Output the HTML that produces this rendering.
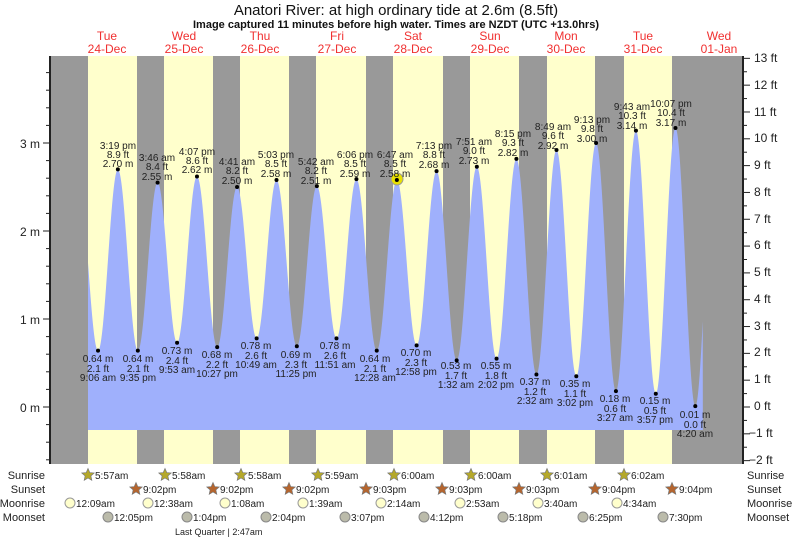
<!DOCTYPE html>
<html><head><meta charset="utf-8"><style>
body{margin:0;background:#fff;}
svg{display:block;font-family:"Liberation Sans",sans-serif;}
.t{font-size:10px;fill:#222;text-anchor:middle}
.d{font-size:12px;fill:#f03030;text-anchor:middle}
.r{font-size:12px;fill:#222}
</style></head><body>
<svg id="s" width="793" height="537" viewBox="0 0 793 537">
<rect width="793" height="537" fill="#fff"/>
<g id="bands"></g>
<path id="tide" fill="#9fb0fc" d=""/>
<g id="ticks" stroke="#222" stroke-width="1"></g>
<line x1="50" y1="56" x2="50" y2="464" stroke="#222" stroke-width="2"/>
<line x1="743" y1="56" x2="743" y2="464" stroke="#222" stroke-width="2"/>
<text x="396" y="15" font-size="15" text-anchor="middle" fill="#111">Anatori River: at high  ordinary tide at 2.6m (8.5ft)</text>
<text x="396" y="28" font-size="11" font-weight="bold" text-anchor="middle" fill="#111">Image captured 11 minutes before high water. Times are NZDT (UTC +13.0hrs)</text>
<g class="d">
<text x="107" y="40">Tue</text><text x="107" y="53">24‑Dec</text>
<text x="184" y="40">Wed</text><text x="184" y="53">25‑Dec</text>
<text x="260" y="40">Thu</text><text x="260" y="53">26‑Dec</text>
<text x="337" y="40">Fri</text><text x="337" y="53">27‑Dec</text>
<text x="413" y="40">Sat</text><text x="413" y="53">28‑Dec</text>
<text x="490" y="40">Sun</text><text x="490" y="53">29‑Dec</text>
<text x="566" y="40">Mon</text><text x="566" y="53">30‑Dec</text>
<text x="643" y="40">Tue</text><text x="643" y="53">31‑Dec</text>
<text x="719" y="40">Wed</text><text x="719" y="53">01‑Jan</text>
</g>
<g class="r" font-size="12">
<text x="40" y="148" text-anchor="end">3 m</text>
<text x="40" y="236" text-anchor="end">2 m</text>
<text x="40" y="324" text-anchor="end">1 m</text>
<text x="40" y="412" text-anchor="end">0 m</text>
<text x="754" y="62">13 ft</text><text x="754" y="89">12 ft</text><text x="754" y="116">11 ft</text>
<text x="754" y="142">10 ft</text><text x="754" y="169">9 ft</text><text x="754" y="196">8 ft</text>
<text x="754" y="223">7 ft</text><text x="754" y="249">6 ft</text><text x="754" y="276">5 ft</text>
<text x="754" y="303">4 ft</text><text x="754" y="330">3 ft</text><text x="754" y="356">2 ft</text>
<text x="754" y="383">1 ft</text><text x="754" y="410">0 ft</text><text x="749" y="437">−1 ft</text>
<text x="749" y="464">−2 ft</text>
</g>
<circle cx="397" cy="179" r="6" fill="#e8e000" stroke="#999" stroke-width="1"/>
<g id="dots" fill="#000"></g>
<g class="t">
<text x="118" y="149">3:19 pm</text><text x="118" y="158">8.9 ft</text><text x="118" y="167">2.70 m</text>
<text x="157" y="161">3:46 am</text><text x="157" y="170">8.4 ft</text><text x="157" y="180">2.55 m</text>
<text x="197" y="155">4:07 pm</text><text x="197" y="164">8.6 ft</text><text x="197" y="173">2.62 m</text>
<text x="237" y="165">4:41 am</text><text x="237" y="174">8.2 ft</text><text x="237" y="184">2.50 m</text>
<text x="276" y="158">5:03 pm</text><text x="276" y="167">8.5 ft</text><text x="276" y="177">2.58 m</text>
<text x="316" y="165">5:42 am</text><text x="316" y="174">8.2 ft</text><text x="316" y="184">2.51 m</text>
<text x="355" y="158">6:06 pm</text><text x="355" y="167">8.5 ft</text><text x="355" y="177">2.59 m</text>
<text x="395" y="158">6:47 am</text><text x="395" y="167">8.5 ft</text><text x="395" y="177">2.58 m</text>
<text x="434" y="149">7:13 pm</text><text x="434" y="158">8.8 ft</text><text x="434" y="168">2.68 m</text>
<text x="474" y="145">7:51 am</text><text x="474" y="154">9.0 ft</text><text x="474" y="164">2.73 m</text>
<text x="513" y="137">8:15 pm</text><text x="513" y="146">9.3 ft</text><text x="513" y="156">2.82 m</text>
<text x="553" y="130">8:49 am</text><text x="553" y="139">9.6 ft</text><text x="553" y="149">2.92 m</text>
<text x="592" y="123">9:13 pm</text><text x="592" y="132">9.8 ft</text><text x="592" y="142">3.00 m</text>
<text x="632" y="110">9:43 am</text><text x="632" y="119">10.3 ft</text><text x="632" y="129">3.14 m</text>
<text x="671" y="107">10:07 pm</text><text x="671" y="116">10.4 ft</text><text x="671" y="126">3.17 m</text>

<text x="98" y="362">0.64 m</text><text x="98" y="372">2.1 ft</text><text x="98" y="381">9:06 am</text>
<text x="138" y="362">0.64 m</text><text x="138" y="372">2.1 ft</text><text x="138" y="381">9:35 pm</text>
<text x="177" y="354">0.73 m</text><text x="177" y="364">2.4 ft</text><text x="177" y="373">9:53 am</text>
<text x="217" y="358">0.68 m</text><text x="217" y="368">2.2 ft</text><text x="217" y="377">10:27 pm</text>
<text x="256" y="349">0.78 m</text><text x="256" y="359">2.6 ft</text><text x="256" y="368">10:49 am</text>
<text x="296" y="358">0.69 m</text><text x="296" y="368">2.3 ft</text><text x="296" y="377">11:25 pm</text>
<text x="335" y="349">0.78 m</text><text x="335" y="359">2.6 ft</text><text x="335" y="368">11:51 am</text>
<text x="375" y="362">0.64 m</text><text x="375" y="372">2.1 ft</text><text x="375" y="381">12:28 am</text>
<text x="416" y="356">0.70 m</text><text x="416" y="366">2.3 ft</text><text x="416" y="375">12:58 pm</text>
<text x="456" y="369">0.53 m</text><text x="456" y="379">1.7 ft</text><text x="456" y="388">1:32 am</text>
<text x="496" y="369">0.55 m</text><text x="496" y="379">1.8 ft</text><text x="496" y="388">2:02 pm</text>
<text x="535" y="385">0.37 m</text><text x="535" y="395">1.2 ft</text><text x="535" y="404">2:32 am</text>
<text x="575" y="387">0.35 m</text><text x="575" y="397">1.1 ft</text><text x="575" y="406">3:02 pm</text>
<text x="615" y="402">0.18 m</text><text x="615" y="412">0.6 ft</text><text x="615" y="421">3:27 am</text>
<text x="655" y="404">0.15 m</text><text x="655" y="414">0.5 ft</text><text x="655" y="423">3:57 pm</text>
<text x="695" y="418">0.01 m</text><text x="695" y="428">0.0 ft</text><text x="695" y="437">4:20 am</text>
</g>
<g class="r" font-size="11">
<text x="45" y="479" text-anchor="end" font-size="11">Sunrise</text>
<text x="45" y="493" text-anchor="end" font-size="11">Sunset</text>
<text x="45" y="507" text-anchor="end" font-size="11">Moonrise</text>
<text x="45" y="521" text-anchor="end" font-size="11">Moonset</text>
<text x="747" y="479" font-size="11">Sunrise</text>
<text x="747" y="493" font-size="11">Sunset</text>
<text x="747" y="507" font-size="11">Moonrise</text>
<text x="747" y="521" font-size="11">Moonset</text>
<text x="175" y="535" font-size="9">Last Quarter | 2:47am</text>
</g>
<g id="ic"></g>
<g class="r" id="ict" style="font-size:10px">
<text x="95" y="479">5:57am</text><text x="172" y="479">5:58am</text><text x="248" y="479">5:58am</text><text x="325" y="479">5:59am</text>
<text x="401" y="479">6:00am</text><text x="478" y="479">6:00am</text><text x="554" y="479">6:01am</text><text x="631" y="479">6:02am</text>
<text x="143" y="493">9:02pm</text><text x="220" y="493">9:02pm</text><text x="296" y="493">9:02pm</text><text x="373" y="493">9:03pm</text>
<text x="449" y="493">9:03pm</text><text x="526" y="493">9:03pm</text><text x="602" y="493">9:04pm</text><text x="679" y="493">9:04pm</text>
<text x="76" y="507">12:09am</text><text x="154" y="507">12:38am</text><text x="231" y="507">1:08am</text><text x="309" y="507">1:39am</text>
<text x="387" y="507">2:14am</text><text x="466" y="507">2:53am</text><text x="544" y="507">3:40am</text><text x="623" y="507">4:34am</text>
<text x="114" y="521">12:05pm</text><text x="193" y="521">1:04pm</text><text x="272" y="521">2:04pm</text><text x="351" y="521">3:07pm</text>
<text x="430" y="521">4:12pm</text><text x="509" y="521">5:18pm</text><text x="589" y="521">6:25pm</text><text x="669" y="521">7:30pm</text>
</g>
</svg>
<script>
var NS="http://www.w3.org/2000/svg";
function el(p,t,a){var e=document.createElementNS(NS,t);for(var k in a)e.setAttribute(k,a[k]);p.appendChild(e);return e;}
var X=function(t){return 69+t*3.19;}, Y=function(h){return 407-h*88;};
var b=document.getElementById('bands');
el(b,'rect',{x:50,y:56,width:693,height:408,fill:'#999'});
var days=[[88,137],[164,213],[240,289],[316,366],[393,443],[470,519],[547,595],[624,672]];
days.forEach(function(d){el(b,'rect',{x:d[0],y:56,width:d[1]-d[0],height:408,fill:'#ffffcc'});});
var ex=[[2.9,2.6],[9.1,.64],[15.32,2.70],[21.58,.64],[27.77,2.55],[33.88,.73],[40.12,2.62],[46.45,.68],[52.68,2.50],[58.82,.78],[65.05,2.58],[71.42,.69],[77.7,2.51],[83.85,.78],[90.1,2.59],[96.47,.64],[102.78,2.58],[108.97,.70],[115.22,2.68],[121.53,.53],[127.85,2.73],[134.03,.55],[140.25,2.82],[146.53,.37],[152.82,2.92],[159.03,.35],[165.22,3.00],[171.45,.18],[177.72,3.14],[183.95,.15],[190.12,3.17],[196.33,.01],[202.5,3.1]];
function h(t){for(var i=0;i<ex.length-1;i++){var a=ex[i],c=ex[i+1];if(t>=a[0]&&t<=c[0]){var f=(t-a[0])/(c[0]-a[0]);return a[1]+(c[1]-a[1])*(1-Math.cos(Math.PI*f))/2;}}return 0;}
var t0=5.96,t1=198.7,d="M"+X(t0)+",430";
for(var t=t0;t<=t1;t+=0.1)d+="L"+X(t).toFixed(2)+","+Y(h(t)).toFixed(2);
d+="L"+X(t1)+",430Z";
document.getElementById('tide').setAttribute('d',d);
var dg=document.getElementById('dots');
for(var i=1;i<ex.length-1;i++)el(dg,'circle',{cx:X(ex[i][0]),cy:Y(ex[i][1]),r:2});
var tk=document.getElementById('ticks');
for(var m=-0.6;m<=3.9;m+=0.2){var y=Y(m),maj=Math.abs(m-Math.round(m))<0.01;el(tk,'line',{x1:maj?43:46,x2:50,y1:y,y2:y});}
for(var f=-2;f<=13;f+=0.5){var y=407-f*26.82,maj=f%1==0;el(tk,'line',{x1:743,x2:maj?750:747,y1:y,y2:y});}
var ic=document.getElementById('ic');
function star(x,y,c){var p="";for(var k=0;k<10;k++){var r=k%2?3:6.5,a=-Math.PI/2+k*Math.PI/5;p+=(x+r*Math.cos(a)).toFixed(1)+","+(y+r*Math.sin(a)).toFixed(1)+" ";}el(ic,'polygon',{points:p,fill:c,stroke:'#777','stroke-width':0.7});}
[88,165,241,318,394,471,547,624].forEach(function(x){star(x,475,'#b5a82a');});
[136,213,289,366,442,519,595,672].forEach(function(x){star(x,489,'#b5652e');});
[70,148,225,303,381,460,538,617].forEach(function(x){el(ic,'circle',{cx:x,cy:503,r:5,fill:'#ffffcc',stroke:'#999'});});
[108,187,266,345,424,503,583,663].forEach(function(x){el(ic,'circle',{cx:x,cy:517,r:5,fill:'#bbbbaa',stroke:'#888'});});
</script>
</body></html>
